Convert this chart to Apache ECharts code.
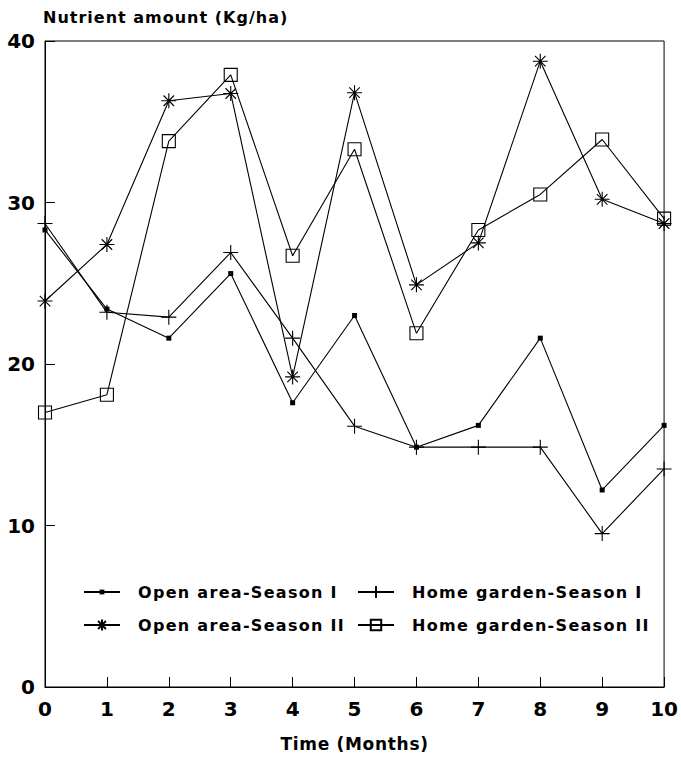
<!DOCTYPE html>
<html>
<head>
<meta charset="utf-8">
<script src="https://cdn.jsdelivr.net/npm/echarts@6/dist/echarts.min.js"></script>
<style>
  html, body { margin: 0; padding: 0; background: #fff; }
  #chart { width: 681px; height: 757px; }
</style>
</head>
<body>
<div id="chart"></div>
<script>
// Time in months
const months = [0, 1, 2, 3, 4, 5, 6, 7, 8, 9, 10];

// Nutrient amount (Kg/ha) per series
const openAreaS1   = [28.3, 23.4, 21.6, 25.6, 17.6, 23.0, 14.85, 16.2, 21.6, 12.2, 16.2];
const homeGardenS1 = [28.7, 23.2, 22.9, 26.9, 21.6, 16.15, 14.85, 14.85, 14.85, 9.5, 13.5];
const openAreaS2   = [23.9, 27.4, 36.3, 36.75, 19.2, 36.8, 24.9, 27.5, 38.75, 30.2, 28.7];
const homeGardenS2 = [17.0, 18.1, 33.8, 37.9, 26.7, 33.3, 21.9, 28.3, 30.5, 33.9, 29.0];

const seriesNames = [
  'Open area-Season I',
  'Home garden-Season I',
  'Open area-Season II',
  'Home garden-Season II'
];
const titleText = 'Nutrient amount (Kg/ha)';
const xName = 'Time (Months)';

const FONT = "'DejaVu Sans', Verdana, sans-serif";
const PLUS = 'path://M0,10L20,10M10,0L10,20';
const STAR = 'path://M10,0L10,20M0,10L20,10M3,3L17,17M17,3L3,17';

const pairs = ys => months.map((m, i) => [m, ys[i]]);

const lineStyle = { color: '#000', width: 1.1 };

function legendAt(name, left, centerY, itemHeight) {
  return {
    data: [name],
    left: left,
    top: centerY - 14,
    orient: 'horizontal',
    itemWidth: 36,
    itemHeight: itemHeight,
    selectedMode: false,
    textStyle: {
      fontFamily: FONT, fontWeight: 'bold', fontSize: 16, lineHeight: 18, color: '#000',
      padding: [0, 0, 0, 13]
    }
  };
}

const option = {
  animation: false,
  backgroundColor: '#fff',
  title: {
    text: titleText,
    left: 38,
    top: 4,
    textStyle: { fontFamily: FONT, fontWeight: 'bold', fontSize: 16, color: '#000' }
  },
  grid: {
    left: 45, right: 15, top: 41, bottom: 68,
    show: true, borderColor: '#000', borderWidth: 1, backgroundColor: 'transparent'
  },
  legend: [
    legendAt(seriesNames[0], 78, 592, 6),
    legendAt(seriesNames[1], 352, 592, 15),
    legendAt(seriesNames[2], 78, 625, 14),
    legendAt(seriesNames[3], 352, 625, 13)
  ],
  xAxis: {
    type: 'value',
    min: 0, max: 10, interval: 1,
    name: xName,
    nameLocation: 'middle',
    nameGap: 48,
    nameTextStyle: { fontFamily: FONT, fontWeight: 'bold', fontSize: 17, color: '#000' },
    axisLine: { show: true, lineStyle: { color: '#000', width: 1 } },
    axisTick: { show: true, inside: true, length: 10, lineStyle: { color: '#000', width: 1 } },
    axisLabel: { fontFamily: FONT, fontWeight: 'bold', fontSize: 20, color: '#000', margin: 12 },
    splitLine: { show: false }
  },
  yAxis: {
    type: 'value',
    min: 0, max: 40, interval: 10,
    axisLine: { show: true, lineStyle: { color: '#000', width: 1 } },
    axisTick: { show: true, inside: true, length: 10, lineStyle: { color: '#000', width: 1 } },
    axisLabel: { fontFamily: FONT, fontWeight: 'bold', fontSize: 20, color: '#000', margin: 10 },
    splitLine: { show: false }
  },
  series: [
    {
      name: seriesNames[0], type: 'line', data: pairs(openAreaS1),
      symbol: 'rect', symbolSize: 5,
      itemStyle: { color: '#000' },
      lineStyle: lineStyle, emphasis: { disabled: true }
    },
    {
      name: seriesNames[1], type: 'line', data: pairs(homeGardenS1),
      symbol: PLUS, symbolSize: 15,
      itemStyle: { color: '#000', borderColor: '#000', borderWidth: 1.1 },
      lineStyle: lineStyle, emphasis: { disabled: true }
    },
    {
      name: seriesNames[2], type: 'line', data: pairs(openAreaS2),
      symbol: STAR, symbolSize: 15,
      itemStyle: { color: '#000', borderColor: '#000', borderWidth: 1.1 },
      lineStyle: lineStyle, emphasis: { disabled: true }
    },
    {
      name: seriesNames[3], type: 'line', data: pairs(homeGardenS2),
      symbol: 'rect', symbolSize: 13,
      itemStyle: { color: 'rgba(255,255,255,0)', borderColor: '#000', borderWidth: 1.1 },
      lineStyle: lineStyle, emphasis: { disabled: true }
    }
  ]
};

const dom = document.getElementById('chart');
const chart = echarts.init(dom, null, { renderer: 'svg' });
chart.setOption(option);

// Extra tracking for the worded labels
const tracking = {};
tracking[titleText] = '1px';
tracking[xName] = '0.7px';
seriesNames.forEach(n => { tracking[n] = '1.3px'; });
function trackWords() {
  dom.querySelectorAll('text').forEach(t => {
    const s = tracking[t.textContent.trim()];
    if (s) t.style.letterSpacing = s;
  });
}
chart.on('finished', trackWords);
trackWords();
</script>
</body>
</html>
